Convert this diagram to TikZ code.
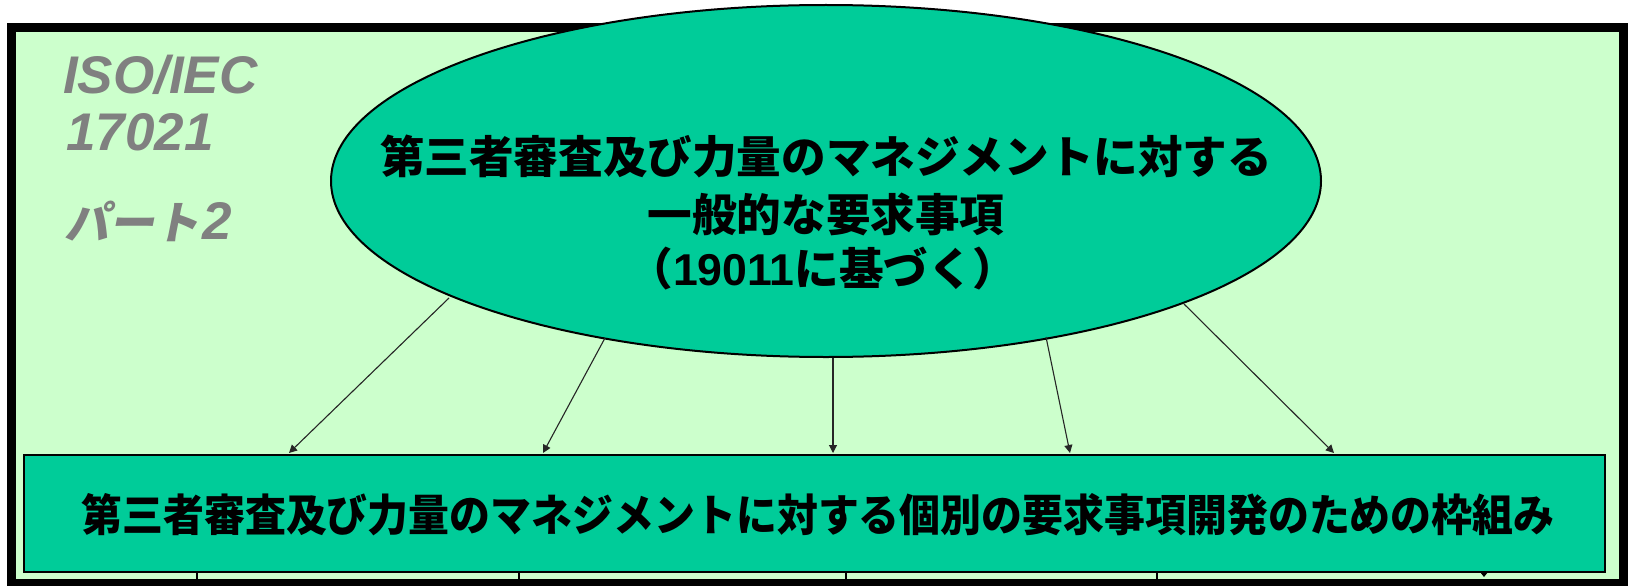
\documentclass[tikz,border=0pt]{standalone}
\usepackage{fontspec}
\usepackage{graphicx}
\setmainfont{Liberation Sans}
\newfontfamily\jp{Noto Sans CJK JP}
\newfontfamily\jpsl{Noto Sans CJK JP}[FakeSlant=0.2]
\usetikzlibrary{arrows.meta,shapes.geometric}
\definecolor{lg}{HTML}{CCFFCC}
\definecolor{tl}{HTML}{00CC99}
\definecolor{gr}{HTML}{808080}
\tikzset{
  arr/.style={line width=1.1pt, draw=black!85, -{Triangle[length=8pt,width=8pt]}},
  etxt/.style={font=\jp\bfseries\fontsize{44.6}{50}\selectfont, inner sep=0pt, text=black},
  gtxt/.style={font=\bfseries\itshape\fontsize{53}{53}\selectfont, text=gr, inner sep=0pt, anchor=base west},
  tick/.style={line width=2pt, draw=black}
}
\begin{document}
\begin{tikzpicture}[x=1pt,y=-1pt]
\useasboundingbox (0,0) rectangle (1628,586);
% frame
\fill[black] (7,23) rectangle (1628,586);
\fill[lg] (16,32) rectangle (1619,579);
% grey labels
\node[gtxt] (iso) at (63,93) {ISO/IEC};
\node[gtxt] (num) at (66,150) {17021};
\node[gtxt] (part) at (64,239) {{\jpsl\bfseries\fontsize{45}{45}\selectfont パート}\kern3pt 2};
% ellipse
\node[draw=black, line width=2pt, fill=tl, ellipse, minimum width=990pt, minimum height=352pt, inner sep=0pt] (e) at (826,181) {};
\node[etxt] (l1) at (826,156) {第三者審査及び力量のマネジメントに対する};
\node[etxt] (l2) at (826,214) {一般的な要求事項};
\node[etxt] (l3) at (823,269) {（{\rmfamily\bfseries 19011}に基づく）};
% box
\node[draw=black, line width=2pt, fill=tl, minimum width=1581pt, minimum height=117pt, inner sep=0pt, anchor=north west] (b) at (23,454) {};
\node[font=\jp\bfseries\fontsize{44}{44}\selectfont, inner sep=0pt] (bt) at (818,515) {\scalebox{0.93}[1]{第三者審査及び力量のマネジメントに対する個別の要求事項開発のための枠組み}};
% arrows
\coordinate (s1) at (449,298);
\coordinate (s2) at (605,338);
\coordinate (s3) at (833,358);
\coordinate (s4) at (1046,337);
\coordinate (s5) at (1184,304);
\coordinate (t1) at (289,453);
\coordinate (t2) at (543,453);
\coordinate (t3) at (833,453);
\coordinate (t4) at (1070,453);
\coordinate (t5) at (1334,453);
\draw[arr] (s1) -- (t1);
\draw[arr] (s2) -- (t2);
\draw[arr] (s3) -- (t3);
\draw[arr] (s4) -- (t4);
\draw[arr] (s5) -- (t5);
% ticks below box
\draw[tick] (197,571) -- (197,580);
\draw[tick] (519,571) -- (519,580);
\draw[tick] (846,571) -- (846,580);
\draw[tick] (1157,571) -- (1157,580);
\fill[black] (1480,572) -- (1488,572) -- (1484,577) -- cycle;
\end{tikzpicture}
\end{document}
